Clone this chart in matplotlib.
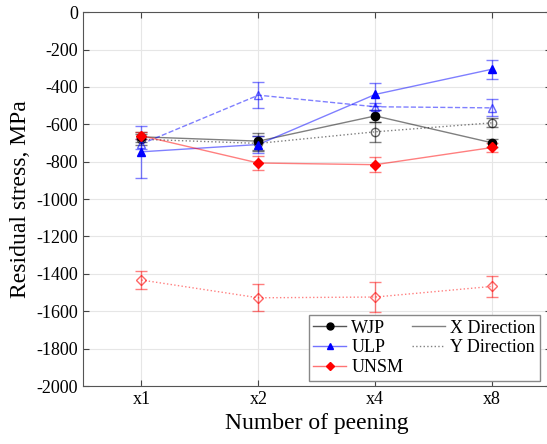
import matplotlib.pyplot as plt
from matplotlib.lines import Line2D

plt.rcParams['font.family'] = 'Liberation Serif'
plt.rcParams['axes.unicode_minus'] = False

labels = ['x1', 'x2', 'x4', 'x8']
pos = [1, 2, 3, 4]

# WJP
wjp_x = [-667, -690, -555, -699]
wjp_x_err = [25, 45, 30, 20]
wjp_y = [-680, -702, -640, -592]
wjp_y_err = [30, 40, 53, 25]
# ULP
ulp_x = [-747, -708, -440, -305]
ulp_x_err = [140, 45, 60, 50]
ulp_y = [-705, -444, -506, -512]
ulp_y_err = [25, 71, 20, 46]
# UNSM
unsm_x = [-661, -807, -816, -724]
unsm_x_err = [20, 39, 39, 22]
unsm_y = [-1433, -1528, -1524, -1467]
unsm_y_err = [49, 73, 82, 56]

fig = plt.figure(figsize=(5.47, 4.44), dpi=100)
ax = fig.add_axes([0.1517, 0.1306, 0.855, 0.842])

def series(vals, err, color, marker, ls, filled, ms):
    ax.errorbar(pos, vals, yerr=err, color=color, alpha=0.5, linestyle=ls,
                linewidth=1, capsize=4, elinewidth=1, zorder=2)
    ax.plot(pos, vals, linestyle='none', marker=marker, markersize=ms,
            markerfacecolor=color if filled else 'none',
            markeredgecolor=color, alpha=1 if filled else 0.6, zorder=3)

series(wjp_x, wjp_x_err, 'black', 'o', '-', True, 6)
series(wjp_y, wjp_y_err, 'black', 'o', ':', False, 6)
series(ulp_x, ulp_x_err, 'blue', '^', '-', True, 6)
series(ulp_y, ulp_y_err, 'blue', '^', '--', False, 6)
series(unsm_x, unsm_x_err, 'red', 'D', '-', True, 5)
series(unsm_y, unsm_y_err, 'red', 'D', ':', False, 5)

ax.set_xlim(0.5, 4.5)
ax.set_ylim(-2000, 0)
ax.set_xticks(pos)
ax.set_xticklabels(labels)
ax.set_yticks(range(-2000, 1, 200))
ax.tick_params(direction='in', top=True, right=True, labelsize=13, length=4,
               color='#444444')
ax.grid(True, color='#e6e6e6', linewidth=0.8)
ax.set_axisbelow(True)
for s in ax.spines.values():
    s.set_color('#555555')
ax.set_xlabel('Number of peening', fontsize=17)
ax.set_ylabel('Residual stress, MPa', fontsize=17)

handles = [
    Line2D([], [], color='#555555', marker='o', markersize=5, lw=1,
           markerfacecolor='black', markeredgecolor='black'),
    Line2D([], [], color=(0.45, 0.45, 1), marker='^', markersize=5, lw=1,
           markerfacecolor='blue', markeredgecolor='blue'),
    Line2D([], [], color=(1, 0.45, 0.45), marker='D', markersize=4, lw=1,
           markerfacecolor='red', markeredgecolor='red'),
    Line2D([], [], color='gray', lw=1, ls='-'),
    Line2D([], [], color='gray', lw=1, ls=':'),
]

ax.legend(handles, ['WJP', 'ULP', 'UNSM', 'X Direction', 'Y Direction'],
          ncol=2, loc='lower right', bbox_to_anchor=(0.985, 0.005),
          fontsize=13, fancybox=False, edgecolor='#888888', framealpha=1,
          handlelength=1.8, labelspacing=0.15, columnspacing=0.5,
          borderpad=0.25, handletextpad=0.3, borderaxespad=0.2)

fig.savefig('out.png')
